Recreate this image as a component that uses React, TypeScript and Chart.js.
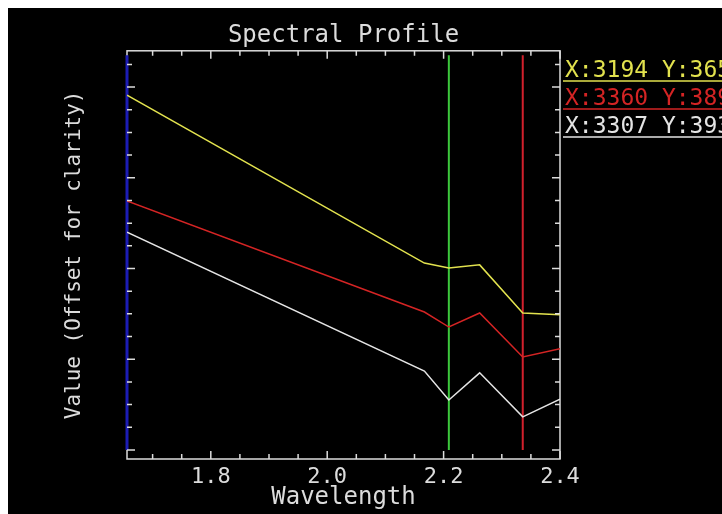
import React, { useEffect, useRef } from "react";
import { Chart, registerables } from "chart.js";

Chart.register(...registerables);

// ---- data ----
const TITLE = "Spectral Profile";
const X_TITLE = "Wavelength";
const Y_TITLE = "Value (Offset for clarity)";

const WAVELENGTHS = [1.656, 2.167, 2.209, 2.262, 2.336, 2.4];
const SERIES_LABELS = ["X:3194 Y:365", "X:3360 Y:389", "X:3307 Y:393"];
const SERIES_YELLOW = [0.982, 0.612, 0.601, 0.608, 0.502, 0.498];
const SERIES_RED = [0.749, 0.504, 0.471, 0.502, 0.405, 0.423];
const SERIES_WHITE = [0.68, 0.374, 0.31, 0.37, 0.273, 0.312];
const SERIES_COLORS = ["#e2e24e", "#d42424", "#e4e4e4"];

const CURSOR_WAVELENGTHS = [1.656, 2.209, 2.336];
const CURSOR_SPAN = [0.2, 1.07];
const CURSOR_COLORS = ["#1c1cb4", "#3cc83c", "#d2202c"];

const X_RANGE = [1.656, 2.4];
const Y_RANGE = [0.18, 1.08];
const X_MAJOR_TICKS = [1.8, 2.0, 2.2, 2.4];
const X_MINOR_TICKS = [1.7, 1.75, 1.85, 1.9, 1.95, 2.05, 2.1, 2.15, 2.25, 2.3, 2.35];
const Y_MAJOR_TICKS = [0.2, 0.4, 0.6, 0.8, 1.0];
const Y_MINOR_TICKS = [0.25, 0.3, 0.35, 0.45, 0.5, 0.55, 0.65, 0.7, 0.75, 0.85, 0.9, 0.95, 1.05];

// ---- style ----
const FONT = "'DejaVu Sans Mono', monospace";
const FG = "#dcdcdc";
const W = 714;
const H = 506;

const isMajor = (v: number, list: number[]) => list.some((m) => Math.abs(m - v) < 1e-6);

const framePlugin = {
  id: "idlFrame",
  beforeDatasetsDraw(chart: any) {
    const { ctx, chartArea: a } = chart;
    ctx.save();
    ctx.strokeStyle = FG;
    ctx.lineWidth = 1.5;
    ctx.strokeRect(a.left, a.top, a.right - a.left, a.bottom - a.top);
    ctx.restore();
  },
  afterDatasetsDraw(chart: any) {
    const { ctx, chartArea: a, scales } = chart;
    ctx.save();
    ctx.strokeStyle = FG;
    ctx.lineWidth = 1.5;
    ctx.beginPath();
    for (const t of scales.x.ticks) {
      const p = scales.x.getPixelForValue(t.value);
      const L = isMajor(t.value, X_MAJOR_TICKS) ? 8 : 5;
      ctx.moveTo(p, a.bottom);
      ctx.lineTo(p, a.bottom - L);
      ctx.moveTo(p, a.top);
      ctx.lineTo(p, a.top + L);
    }
    for (const t of scales.y.ticks) {
      const p = scales.y.getPixelForValue(t.value);
      const L = isMajor(t.value, Y_MAJOR_TICKS) ? 8 : 5;
      ctx.moveTo(a.left, p);
      ctx.lineTo(a.left + L, p);
      ctx.moveTo(a.right, p);
      ctx.lineTo(a.right - L, p);
    }
    ctx.stroke();
    ctx.restore();
  },
};

const legendPlugin = {
  id: "cursorLegend",
  afterDraw(chart: any) {
    const { ctx, chartArea: a } = chart;
    ctx.save();
    ctx.font = `23px ${FONT}`;
    ctx.textAlign = "left";
    ctx.textBaseline = "alphabetic";
    let row = 0;
    chart.data.datasets.forEach((ds: any) => {
      if (ds.isCursor) return;
      const base = 69 + row * 28;
      ctx.fillStyle = ds.borderColor;
      ctx.fillText(ds.label, a.right + 5, base);
      ctx.strokeStyle = ds.borderColor;
      ctx.lineWidth = 1.5;
      ctx.beginPath();
      ctx.moveTo(a.right + 3, base + 4);
      ctx.lineTo(chart.width, base + 4);
      ctx.stroke();
      row++;
    });
    ctx.restore();
  },
};

export default function App() {
  const ref = useRef<HTMLCanvasElement | null>(null);

  useEffect(() => {
    if (!ref.current) return;
    const series = [SERIES_YELLOW, SERIES_RED, SERIES_WHITE];
    const spectra = series.map((vals, i) => ({
      label: SERIES_LABELS[i],
      data: WAVELENGTHS.map((w, j) => ({ x: w, y: vals[j] })),
      borderColor: SERIES_COLORS[i],
      borderWidth: 1.5,
      pointRadius: 0,
      tension: 0,
      isCursor: false,
    }));
    const cursors = CURSOR_WAVELENGTHS.map((w, i) => ({
      label: "",
      data: CURSOR_SPAN.map((y) => ({ x: w, y })),
      borderColor: CURSOR_COLORS[i],
      borderWidth: i === 0 ? 3 : 2,
      pointRadius: 0,
      tension: 0,
      clip: false,
      isCursor: true,
    }));

    const chart = new Chart(ref.current, {
      type: "line",
      data: { datasets: [...spectra, ...cursors] as any },
      plugins: [framePlugin, legendPlugin],
      options: {
        responsive: false,
        animation: false,
        devicePixelRatio: 1,
        events: [],
        layout: { padding: { left: 0, right: 162, top: 0, bottom: 0 } },
        plugins: {
          legend: { display: false },
          tooltip: { enabled: false },
          title: {
            display: true,
            fullSize: false,
            text: TITLE,
            color: FG,
            font: { family: FONT, size: 24, weight: "normal" },
            padding: { top: 13, bottom: 1 },
          },
        },
        scales: {
          x: {
            type: "linear",
            min: X_RANGE[0],
            max: X_RANGE[1],
            grid: { display: false, drawTicks: false },
            border: { display: false },
            afterBuildTicks: (s: any) => {
              s.ticks = [...X_MINOR_TICKS, ...X_MAJOR_TICKS]
                .sort((p, q) => p - q)
                .map((v) => ({ value: v }));
            },
            afterFit: (s: any) => {
              s.height = 55;
            },
            ticks: {
              autoSkip: false,
              maxRotation: 0,
              padding: 5,
              color: FG,
              font: { family: FONT, size: 22 },
              callback: (v: any) => (isMajor(Number(v), X_MAJOR_TICKS) ? Number(v).toFixed(1) : ""),
            },
            title: {
              display: true,
              text: X_TITLE,
              color: FG,
              font: { family: FONT, size: 24 },
              padding: { top: 0, bottom: 2 },
            },
          },
          y: {
            type: "linear",
            min: Y_RANGE[0],
            max: Y_RANGE[1],
            grid: { display: false, drawTicks: false },
            border: { display: false },
            afterBuildTicks: (s: any) => {
              s.ticks = [...Y_MINOR_TICKS, ...Y_MAJOR_TICKS]
                .sort((p, q) => p - q)
                .map((v) => ({ value: v }));
            },
            afterFit: (s: any) => {
              s.width = 119;
            },
            ticks: { display: false },
            title: {
              display: true,
              text: Y_TITLE,
              color: FG,
              font: { family: FONT, size: 21 },
              padding: { top: 54, bottom: 0 },
            },
          },
        },
      } as any,
    });
    return () => chart.destroy();
  }, []);

  return (
    <div style={{ position: "fixed", left: 8, top: 8, width: W, height: H, background: "#000" }}>
      <canvas ref={ref} width={W} height={H} style={{ display: "block", width: W, height: H }} />
    </div>
  );
}
